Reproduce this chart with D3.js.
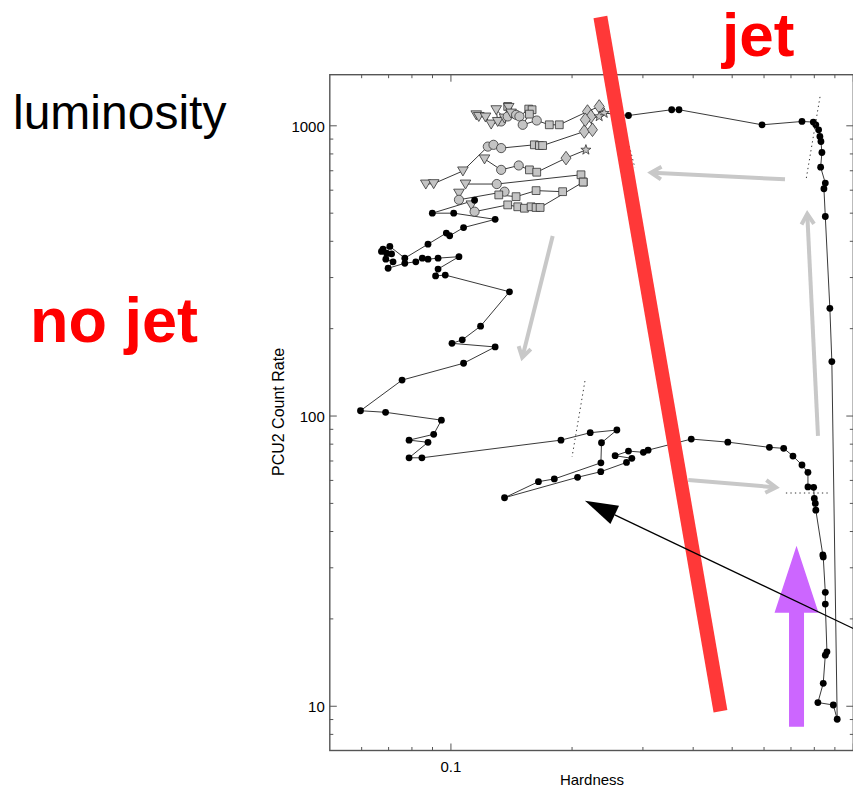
<!DOCTYPE html>
<html><head><meta charset="utf-8">
<script src="https://cdn.jsdelivr.net/npm/d3@7"></script>
<style>html,body{margin:0;padding:0;background:#fff;overflow:hidden}svg{display:block}</style>
</head><body><svg id="c" width="853" height="789"></svg>
<script>
// ---------- DATA ----------
// main black track (hardness, PCU2 count rate)
const blackHardness = [0.1145,0.0899,0.1016,0.1288,0.1075,0.0993,0.0974,0.0877,0.0768,0.0705,0.0678,0.0672,0.0692,0.0712,0.0689,0.0718,0.0698,0.0768,0.0818,0.0849,0.0877,0.0929,0.1047,0.0929,0.0916,0.0968,0.1398,0.1185,0.1067,0.1006,0.1288,0.1075,0.0756,0.0596,0.0688,0.0947,0.0906,0.0787,0.0877,0.0787,0.0847,0.1877,0.2219,0.2585,0.2367,0.2359,0.1807,0.165,0.1359,0.2064,0.2357,0.2731,0.2816,0.2559,0.2762,0.3008,0.309,0.3956,0.4877,0.6187,0.6714,0.708,0.7455,0.7714,0.7714,0.797,0.800,0.8046,0.807,0.840,0.842,0.852,0.852,0.860,0.852,0.842,0.8166,0.892,0.912,0.8845,0.8745,0.852,0.8453,0.852,0.8295,0.8356,0.831,0.826,0.820,0.807,0.7955,0.7455,0.5932,0.3688,0.3537,0.2762];
const blackRate = [554,500,500,476,446,418,427,391,350,384,376,369,364,362,347,340,323,336,340,350,347,350,354,321,304,306,268,204,183,178,173,152,133,104.3,103,96.8,86.5,82.6,81.2,71.8,71.8,82.6,87.6,89.5,80.9,69.0,60.7,59.4,52.3,61.5,64.3,69.2,71.5,73.0,75.7,75.0,76.3,83.3,81.3,78.0,77.4,72.8,67.8,64.0,57.0,56.8,52.0,50.0,47.4,33.2,32.7,24.7,22.5,15.4,15.0,12.0,10.3,10.1,9.02,154,235,487,607,635,720,809,883,919,969,1008,1030,1035,1008,1136,1136,1085];

// grey soft-state tracks: track id, symbol (v triangle, o circle, s square, d diamond, * star)
const greyTrack  = [1,1,1,1,1,1,1,1,1,1,1,1,1,1,1,1,1,1,1,1,1,1,1,1, 2,2,2,2,2,2,2,2,2,2,2,2,2,2, 3,3,3,3,3,3,3, 4,4,4,4, 5,5,5,5,5,5,5, 6,6,6,6,6,6,6,6,6];
const greySymbol = ["v","v","v","v","o","v","v","v","s","v","o","v","o","o","s","s","s","o","o","s","s","d","d","*",
  "v","v","v","o","o","o","s","s","s","d","d","d","d","*",
  "v","o","o","s","s","d","*",
  "v","o","s","s",
  "v","o","o","s","s","s","s",
  "v","o","s","s","s","s","s","s","s"];
const greyHardness = [0.1156,0.1173,0.1219,0.1259,0.1333,0.1307,0.1296,0.1359,0.1384,0.1392,0.1384,0.1411,0.1452,0.148,0.1561,0.1591,0.1567,0.1508,0.1634,0.1756,0.1859,0.2185,0.2336,0.2404,
  0.0866,0.0906,0.1071,0.1235,0.1276,0.1333,0.1612,0.1659,0.169,0.2145,0.2248,0.2228,0.2157,0.2336,
  0.1212,0.1333,0.1474,0.1567,0.1634,0.1932,0.2165,
  0.1087,0.130,0.2105,0.2132,
  0.1047,0.1047,0.1359,0.1315,0.1452,0.1628,0.1895,
  0.1124,0.1145,0.1384,0.1466,0.1523,0.1582,0.1628,0.1666,0.2132];
const greyRate = [1091,1077,1072,1014,1035,1035,1136,1063,1166,1157,1077,1106,1091,1077,1142,1136,1097,1008,1043,1008,1008,1120,1166,1106,
  630,632,699,848,860,838,860,855,855,956,969,1077,1049,1077,
  769,705,730,705,692,774,826,
  630,630,678,640,
  586,556,593,578,570,598,593,
  534,506,534,526,520,526,523,523,640];

// axis ticks
const xMajorTicks = [0.1, 1];
const xMinorTicks = [0.06,0.07,0.08,0.09,0.2,0.3,0.4,0.5,0.6,0.7,0.8,0.9];
const xTickLabels = ["0.1"];
const yMajorTicks = [10, 100, 1000];
const yMinorTicks = [8,9,20,30,40,50,60,70,80,90,200,300,400,500,600,700,800,900];
const yTickLabels = ["10","100","1000"];

// annotations (data coordinates)
const greyArrows = [[[0.6765,654],[0.3142,690]],[[0.179,417],[0.1504,159]],[[0.389,60.2],[0.6425,56.8]],[[0.817,85.4],[0.7684,497]]];
const dottedLines = [[[0.2722,945],[0.2866,716]],[[0.8265,1258],[0.763,651]],[[0.2153,132],[0.200,72.3]],[[0.680,54.3],[0.865,54.3]]];
const redBar = [[0.2352,2372],[0.4676,9.61]];
const purpleArrow = {x:0.7226, tip:35.7, base:21.0, bottom:8.5};
const blackArrow = [[1.16,16.8],[0.2153,51.1]];

// ---------- DRAW ----------
const svg = d3.select("#c");
const FONT = "'Liberation Sans', Arial, Helvetica, sans-serif";
const x = d3.scaleLog().domain([0.05, 1]).range([329.8, 853.3]);
const y = d3.scaleLog().domain([7.04, 1500]).range([750.5, 74.7]);
const [xl, xr] = x.range(), [yb, yt] = y.range();

// frame
svg.append("rect").attr("x", xl).attr("y", yt).attr("width", xr - xl).attr("height", yb - yt)
  .attr("fill", "none").attr("stroke", "#555").attr("stroke-width", 1.4);

const tk = svg.append("g").attr("stroke", "#555").attr("stroke-width", 1);
function xt(v, len) {
  tk.append("line").attr("x1", x(v)).attr("x2", x(v)).attr("y1", yb).attr("y2", yb - len);
  tk.append("line").attr("x1", x(v)).attr("x2", x(v)).attr("y1", yt).attr("y2", yt + len);
}
function yt_(v, len) {
  tk.append("line").attr("y1", y(v)).attr("y2", y(v)).attr("x1", xl).attr("x2", xl + len);
  tk.append("line").attr("y1", y(v)).attr("y2", y(v)).attr("x1", xr).attr("x2", xr - len);
}
xMajorTicks.forEach(v => xt(v, 7)); xMinorTicks.forEach(v => xt(v, 3.5));
yMajorTicks.forEach(v => yt_(v, 7)); yMinorTicks.forEach(v => yt_(v, 3.5));

xTickLabels.forEach((t, i) => svg.append("text").attr("x", x(xMajorTicks[i])).attr("y", yb + 21)
  .attr("text-anchor", "middle").attr("font-family", FONT).attr("font-size", 15).text(t));
yTickLabels.forEach((t, i) => svg.append("text").attr("x", xl - 5).attr("y", y(yMajorTicks[i]) + 6)
  .attr("text-anchor", "end").attr("font-family", FONT).attr("font-size", 15).text(t));
svg.append("text").attr("x", 592).attr("y", 785).attr("text-anchor", "middle")
  .attr("font-family", FONT).attr("font-size", 15).text("Hardness");
svg.append("text").attr("transform", "translate(284,412) rotate(-90)").attr("text-anchor", "middle")
  .attr("font-family", FONT).attr("font-size", 16).text("PCU2 Count Rate");

// lines
const line = d3.line().x(d => x(d[0])).y(d => y(d[1]));
const black = blackHardness.map((h, i) => [h, blackRate[i]]);
const grey = greyHardness.map((h, i) => ({h, r: greyRate[i], t: greyTrack[i], s: greySymbol[i]}));
const tracks = d3.groups(grey, d => d.t).map(g => g[1].map(d => [d.h, d.r]));
const lg = svg.append("g").attr("fill", "none").attr("stroke", "#222").attr("stroke-width", 0.9);
lg.append("path").attr("d", line(black));
tracks.forEach(t => lg.append("path").attr("d", line(t)));
// links between black track and soft-state tracks
lg.append("path").attr("d", line([black[black.length - 1], tracks[0][tracks[0].length - 1]]));
lg.append("path").attr("d", line([tracks[tracks.length - 1][0], black[0]]));

// grey markers
function sym(s, cx, cy) {
  if (s === "v") return `M${cx-5.3},${cy-4}L${cx+5.3},${cy-4}L${cx},${cy+5}Z`;
  if (s === "s") return `M${cx-3.9},${cy-3.9}h7.8v7.8h-7.8Z`;
  if (s === "d") return `M${cx},${cy-6.8}L${cx+5},${cy}L${cx},${cy+6.8}L${cx-5},${cy}Z`;
  if (s === "o") { const r = 4.6; return `M${cx+r},${cy}A${r},${r} 0 1,1 ${cx-r},${cy}A${r},${r} 0 1,1 ${cx+r},${cy}Z`; }
  let p = "";
  for (let k = 0; k < 10; k++) {
    const a = -Math.PI / 2 + k * Math.PI / 5, rr = k % 2 ? 2.1 : 5.3;
    p += (k ? "L" : "M") + (cx + rr * Math.cos(a)) + "," + (cy + rr * Math.sin(a));
  }
  return p + "Z";
}
svg.append("g").selectAll("path").data(grey).join("path")
  .attr("d", d => sym(d.s, x(d.h), y(d.r)))
  .attr("fill", "#c4c4c4").attr("stroke", "#333").attr("stroke-width", 0.8);

// black dots
svg.append("g").selectAll("circle").data(black).join("circle")
  .attr("cx", d => x(d[0])).attr("cy", d => y(d[1])).attr("r", 3.4).attr("fill", "#000");

// grey arrows
const ga = svg.append("g").attr("stroke", "#c8c8c8").attr("stroke-width", 4).attr("fill", "none")
  .attr("stroke-linecap", "butt");
greyArrows.forEach(([a, b]) => {
  const x1 = x(a[0]), y1 = y(a[1]), x2 = x(b[0]), y2 = y(b[1]);
  const ang = Math.atan2(y2 - y1, x2 - x1);
  ga.append("line").attr("x1", x1).attr("y1", y1).attr("x2", x2 - 2 * Math.cos(ang)).attr("y2", y2 - 2 * Math.sin(ang));
  const L = 12, w = 0.55;
  ga.append("path").attr("stroke-linejoin", "miter")
    .attr("d", `M${x2 - L*Math.cos(ang - w)},${y2 - L*Math.sin(ang - w)}L${x2},${y2}L${x2 - L*Math.cos(ang + w)},${y2 - L*Math.sin(ang + w)}`);
});

// dotted lines
const dl = svg.append("g").attr("stroke", "#333").attr("stroke-width", 1).attr("stroke-dasharray", "1.3,3.2");
dottedLines.forEach(([a, b]) => dl.append("line").attr("x1", x(a[0])).attr("y1", y(a[1])).attr("x2", x(b[0])).attr("y2", y(b[1])));

// red bar
svg.append("line").attr("x1", x(redBar[0][0])).attr("y1", y(redBar[0][1]))
  .attr("x2", x(redBar[1][0])).attr("y2", y(redBar[1][1]))
  .attr("stroke", "#ff3838").attr("stroke-width", 14);

// purple arrow
{
  const cx = x(purpleArrow.x), ty = y(purpleArrow.tip), by = y(purpleArrow.base), bot = y(purpleArrow.bottom);
  svg.append("path").attr("fill", "#cc66ff")
    .attr("d", `M${cx},${ty}L${cx+22},${by}L${cx+7.5},${by}L${cx+7.5},${bot}L${cx-7.5},${bot}L${cx-7.5},${by}L${cx-22},${by}Z`);
}

// black arrow
{
  const x1 = x(blackArrow[0][0]), y1 = y(blackArrow[0][1]), x2 = x(blackArrow[1][0]), y2 = y(blackArrow[1][1]);
  const ang = Math.atan2(y2 - y1, x2 - x1), L = 33, W = 10;
  const bx = x2 - L * Math.cos(ang), by = y2 - L * Math.sin(ang);
  svg.append("line").attr("x1", x1).attr("y1", y1).attr("x2", bx).attr("y2", by).attr("stroke", "#000").attr("stroke-width", 1.2);
  svg.append("path").attr("fill", "#000")
    .attr("d", `M${x2},${y2}L${bx - W*Math.sin(ang)},${by + W*Math.cos(ang)}L${bx + W*Math.sin(ang)},${by - W*Math.cos(ang)}Z`);
}

// labels
svg.append("text").attr("x", 13).attr("y", 129).attr("font-family", FONT).attr("font-size", 48).attr("fill", "#000").text("luminosity");
svg.append("text").attr("x", 30).attr("y", 342).attr("font-family", FONT).attr("font-size", 63).attr("font-weight", "bold").attr("fill", "#ff0000").text("no jet");
svg.append("text").attr("x", 722).attr("y", 56).attr("font-family", FONT).attr("font-size", 62).attr("font-weight", "bold").attr("fill", "#ff0000").text("jet");
</script></body></html>
